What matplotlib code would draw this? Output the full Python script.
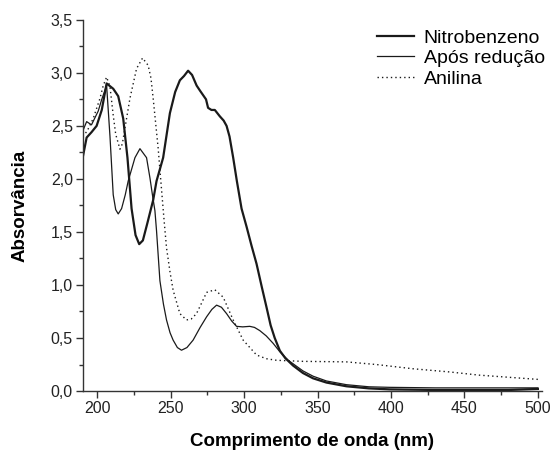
import numpy as np
import matplotlib
matplotlib.use('Agg')
import matplotlib.pyplot as plt
from matplotlib.ticker import MultipleLocator, FuncFormatter

plt.rcParams['font.family'] = ['Liberation Sans', 'DejaVu Sans']

# --- DATA ---
nitro_x = [190, 192.7, 196, 199.5, 203, 206.3, 210.8, 214.2, 217.6, 220.5, 223.3, 226, 228.5, 231,
           234, 238, 240.3, 244.8, 249.4, 253, 256.2, 259, 261.8, 264.5, 267.6, 270, 272, 274,
           275.4, 277.7, 280, 283.4, 286, 288, 290, 292.5, 295, 298.2, 301.6, 305, 308.4, 312,
           315.2, 318, 320.8, 324.3, 328, 333.3, 340, 346.9, 356, 369.6, 385, 399, 430, 460, 480, 500]
nitro_y = [2.20, 2.39, 2.44, 2.50, 2.65, 2.90, 2.85, 2.78, 2.57, 2.20, 1.72, 1.47, 1.385, 1.42,
           1.58, 1.80, 1.98, 2.20, 2.62, 2.82, 2.93, 2.97, 3.02, 2.98, 2.88, 2.83, 2.79, 2.75,
           2.67, 2.65, 2.65, 2.59, 2.55, 2.50, 2.40, 2.20, 1.98, 1.72, 1.55, 1.37, 1.20, 0.98,
           0.79, 0.62, 0.50, 0.38, 0.31, 0.24, 0.17, 0.12, 0.08, 0.045, 0.025, 0.016, 0.01, 0.01, 0.01, 0.02]

red_x = [190, 192.7, 196, 200.6, 203, 206.3, 208.6, 210.8, 212.5, 214.2, 216.5, 219, 221, 225.6,
         229, 233.5, 235.8, 237.5, 239.2, 240.3, 242.6, 245, 247.1, 249.5, 251.6, 254.5, 257.3,
         261, 265.2, 270, 274.4, 278, 281.2, 284.5, 288, 291.5, 294.8, 299, 303.8, 307, 310.6,
         315, 319.7, 324.3, 330, 340, 346.9, 356, 369.6, 385, 399, 430, 460, 480, 500]
red_y = [2.45, 2.54, 2.51, 2.64, 2.75, 2.88, 2.40, 1.85, 1.71, 1.67, 1.72, 1.85, 1.98, 2.20,
         2.285, 2.20, 2.01, 1.85, 1.70, 1.51, 1.04, 0.82, 0.67, 0.55, 0.48, 0.41, 0.385,
         0.41, 0.48, 0.60, 0.70, 0.77, 0.81, 0.79, 0.73, 0.66, 0.61, 0.605, 0.61, 0.60, 0.57,
         0.52, 0.45, 0.37, 0.29, 0.19, 0.14, 0.095, 0.06, 0.04, 0.035, 0.03, 0.03, 0.03, 0.03]

anil_x = [190, 193, 197.2, 201.8, 204, 206.3, 208.6, 210.8, 212.5, 215.4, 217, 218.8, 222.2,
          226.7, 230.8, 234.6, 236.5, 238, 241.4, 243.7, 245.5, 247.1, 249.5, 251.6, 256.2, 260.7,
          264, 267.5, 271, 274.4, 280, 285.7, 289, 292.5, 299.3, 308.4, 315, 322, 340, 369.6,
          390, 415, 440, 460, 480, 500]
anil_y = [2.40, 2.45, 2.57, 2.76, 2.88, 2.96, 2.87, 2.60, 2.42, 2.28, 2.33, 2.48, 2.76,
          3.04, 3.14, 3.07, 2.95, 2.76, 2.29, 1.90, 1.60, 1.35, 1.12, 0.95, 0.73, 0.67,
          0.68, 0.73, 0.83, 0.93, 0.955, 0.885, 0.78, 0.67, 0.48, 0.34, 0.305, 0.29, 0.28, 0.275,
          0.25, 0.21, 0.18, 0.15, 0.13, 0.11]

fig = plt.figure(figsize=(5.56, 4.5), dpi=100)
ax = fig.add_axes([0.1487, 0.131, 0.8253, 0.825])

ax.plot(nitro_x, nitro_y, color='#1a1a1a', lw=1.6, label='Nitrobenzeno')
ax.plot(red_x, red_y, color='#1a1a1a', lw=0.9, label='Após redução')
ax.plot(anil_x, anil_y, color='#1a1a1a', lw=1.0, ls=(0, (1, 2.2)), label='Anilina')

ax.set_xlim(190, 502.5)
ax.set_ylim(0, 3.5)
ax.xaxis.set_major_locator(MultipleLocator(50))
ax.xaxis.set_minor_locator(MultipleLocator(25))
ax.yaxis.set_major_locator(MultipleLocator(0.5))
ax.yaxis.set_minor_locator(MultipleLocator(0.25))
ax.yaxis.set_major_formatter(FuncFormatter(lambda v, p: f"{v:.1f}".replace('.', ',')))

for s in ['top', 'right']:
    ax.spines[s].set_visible(False)
for s in ['left', 'bottom']:
    ax.spines[s].set_linewidth(1.0)
    ax.spines[s].set_color('#333333')
ax.tick_params(which='major', direction='out', length=5, width=1, labelsize=11.5, pad=2,
               color='#333333', labelcolor='#222222')
ax.tick_params(which='minor', direction='out', length=3, width=1, color='#333333')

ax.set_xlabel('Comprimento de onda (nm)', fontsize=13.5, fontweight='bold')
ax.set_ylabel('Absorvância', fontsize=13.5, fontweight='bold')
ax.xaxis.set_label_coords(0.5, -0.113)
ax.yaxis.set_label_coords(-0.119, 0.5)

leg = ax.legend(loc='upper left', bbox_to_anchor=(0.6405, 0.975), frameon=False, fontsize=14,
                handlelength=1.9, handletextpad=0.52, labelspacing=0.15, borderaxespad=0,
                borderpad=0)

fig.savefig('out.png', dpi=100)
